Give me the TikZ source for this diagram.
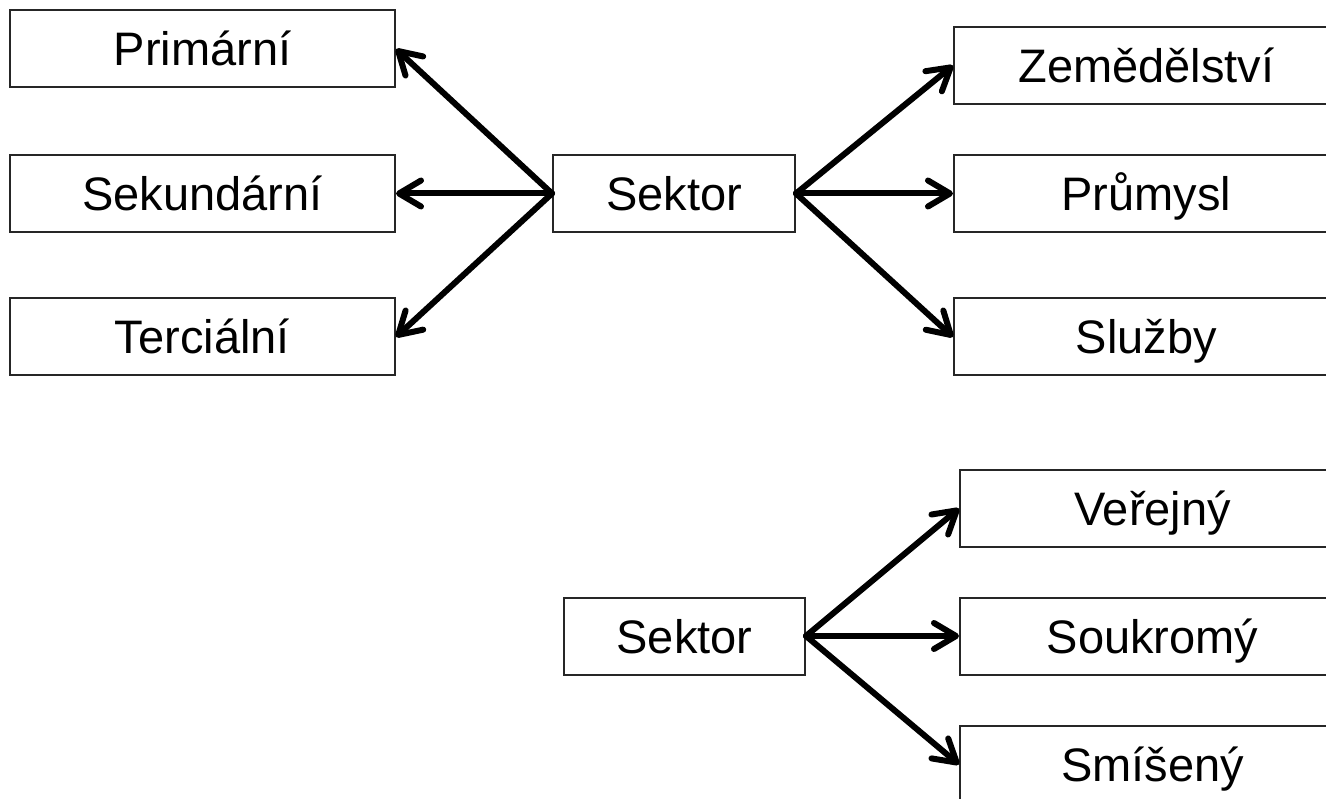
\documentclass[tikz,border=0pt]{standalone}
\usepackage{fontspec}
\setmainfont{Liberation Sans}
\usetikzlibrary{arrows.meta}
\begin{document}
\begin{tikzpicture}[x=1pt,y=-1pt,
  box/.style={draw=black!85, line width=2pt, rectangle, inner sep=0pt, minimum height=77pt, text height=44pt, text depth=10pt, font=\fontsize{47}{54}\selectfont, text=black},
  wide/.style={box, minimum width=385pt},
  conn/.style={line width=6pt, line cap=round, -{Straight Barb[length=22pt,width=26pt,line width=6pt,round]}}]
\useasboundingbox (0,0) rectangle (1326,799);
\clip (0,0) rectangle (1326,799);
\node[wide] (p) at (202.5,49) {Primární};
\node[wide] (sek) at (202.5,193.5) {Sekundární};
\node[wide] (t) at (202.5,337) {Terciální};
\node[box, minimum width=242pt] (s1) at (674,193.5) {Sektor};
\node[wide] (z) at (1146.5,65.5) {Zemědělství};
\node[wide] (pr) at (1146.5,193.5) {Průmysl};
\node[wide] (sl) at (1146.5,337) {Služby};
\node[box, minimum width=241pt] (s2) at (684.5,636) {Sektor};
\node[wide] (v) at (1152.5,508.5) {Veřejný};
\node[wide] (so) at (1152.5,636) {Soukromý};
\node[wide] (sm) at (1152.5,764.5) {Smíšený};
\draw[conn] (s1.west) -- (p.east);
\draw[conn] (s1.west) -- (sek.east);
\draw[conn] (s1.west) -- (t.east);
\draw[conn] (s1.east) -- (z.west);
\draw[conn] (s1.east) -- (pr.west);
\draw[conn] (s1.east) -- (sl.west);
\draw[conn] (s2.east) -- (v.west);
\draw[conn] (s2.east) -- (so.west);
\draw[conn] (s2.east) -- (sm.west);
\end{tikzpicture}
\end{document}
